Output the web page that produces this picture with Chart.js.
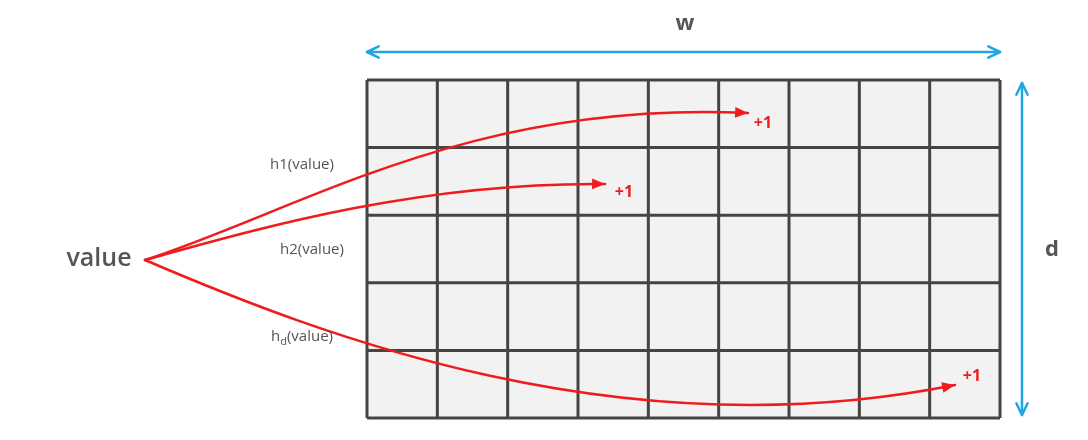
<!DOCTYPE html>
<html><head><meta charset="utf-8">
<script src="https://cdn.jsdelivr.net/npm/chart.js@4"></script>
<style>html,body{margin:0;padding:0;background:#fff}</style>
</head><body>
<canvas id="c" width="1088" height="440"></canvas>
<script>
// Sketch grid (w columns x d rows), in page-unit coordinates
const gridCols = 9;
const gridRows = 5;
const gridBox = [367, 80, 1000, 418]; // x0,y0,x1,y1
// Hash curves: start, control1, control2, end
const curveStarts = [[145,260],[145,260],[145,260]];
const curveC1 = [[300,210],[260,228],[320,335]];
const curveC2 = [[470,100],[420,182],[620,452]];
const curveEnds = [[748,113],[605,184],[955,385]];
const hashLabels = ["h1(value)", "h2(value)", "hd(value)"];
const hashLabelPos = [[302,165],[312,250],[302,337]];
const plusPos = [[763,123],[624,192],[972,376]];
const wArrow = [[367,52],[1000,52]];
const dArrow = [[1022,83],[1022,415]];

const plugin = {
  id: 'sketch',
  afterDraw(chart) {
    const ctx = chart.ctx, X = chart.scales.x, Y = chart.scales.y;
    const px = v => X.getPixelForValue(v), py = v => Y.getPixelForValue(v);
    const [x0,y0,x1,y1] = gridBox;
    const cw = (x1-x0)/gridCols, rh = (y1-y0)/gridRows;
    ctx.save();
    ctx.fillStyle = '#f2f2f2';
    ctx.fillRect(px(x0), py(y0), px(x1)-px(x0), py(y1)-py(y0));
    ctx.strokeStyle = '#444'; ctx.lineWidth = 3;
    ctx.beginPath();
    for (let i=0;i<=gridCols;i++){ctx.moveTo(px(x0+i*cw),py(y0));ctx.lineTo(px(x0+i*cw),py(y1));}
    for (let j=0;j<=gridRows;j++){ctx.moveTo(px(x0),py(y0+j*rh));ctx.lineTo(px(x1),py(y0+j*rh));}
    ctx.stroke();
    function arrow(a,b,col,lw,head,both){
      ctx.strokeStyle=col; ctx.fillStyle=col; ctx.lineWidth=lw;
      ctx.beginPath(); ctx.moveTo(px(a[0]),py(a[1])); ctx.lineTo(px(b[0]),py(b[1])); ctx.stroke();
      const tip=(p,q)=>{const ang=Math.atan2(py(p[1])-py(q[1]),px(p[0])-px(q[0]));
        ctx.beginPath(); ctx.moveTo(px(p[0]),py(p[1]));
        ctx.lineTo(px(p[0])-head*Math.cos(ang-0.45),py(p[1])-head*Math.sin(ang-0.45));
        ctx.moveTo(px(p[0]),py(p[1]));
        ctx.lineTo(px(p[0])-head*Math.cos(ang+0.45),py(p[1])-head*Math.sin(ang+0.45));
        ctx.stroke();};
      tip(b,a); if(both) tip(a,b);
    }
    ctx.lineCap='round';
    arrow(wArrow[0],wArrow[1],'#1ea7e4',2.5,13,true);
    arrow(dArrow[0],dArrow[1],'#1ea7e4',2.5,13,true);
    for (let i=0;i<curveStarts.length;i++){
      const s=curveStarts[i],c1=curveC1[i],c2=curveC2[i],e=curveEnds[i];
      ctx.strokeStyle='#ee1c1c'; ctx.lineWidth=2.5;
      ctx.beginPath(); ctx.moveTo(px(s[0]),py(s[1]));
      ctx.bezierCurveTo(px(c1[0]),py(c1[1]),px(c2[0]),py(c2[1]),px(e[0]),py(e[1]));
      ctx.stroke();
      const ang=Math.atan2(py(e[1])-py(c2[1]),px(e[0])-px(c2[0]));
      ctx.fillStyle='#ee1c1c'; ctx.beginPath();
      ctx.moveTo(px(e[0]),py(e[1]));
      ctx.lineTo(px(e[0])-14*Math.cos(ang-0.4),py(e[1])-14*Math.sin(ang-0.4));
      ctx.lineTo(px(e[0])-14*Math.cos(ang+0.4),py(e[1])-14*Math.sin(ang+0.4));
      ctx.closePath(); ctx.fill();
      ctx.font='bold 16px "Open Sans"'; ctx.textAlign='center'; ctx.textBaseline='middle';
      ctx.fillText('+1',px(plusPos[i][0]),py(plusPos[i][1]));
      ctx.fillStyle='#555'; ctx.font='15px "Open Sans"';
      const [lx,ly]=hashLabelPos[i];
      if (hashLabels[i]==='hd(value)'){
        const w1=ctx.measureText('h').width, w2=ctx.measureText('(value)').width;
        ctx.font='11px "Open Sans"'; const wd=ctx.measureText('d').width;
        let st=px(lx)-(w1+wd+w2)/2; ctx.textAlign='left';
        ctx.font='15px "Open Sans"'; ctx.fillText('h',st,py(ly));
        ctx.font='11px "Open Sans"'; ctx.fillText('d',st+w1,py(ly)+5);
        ctx.font='15px "Open Sans"'; ctx.fillText('(value)',st+w1+wd,py(ly));
      } else ctx.fillText(hashLabels[i],px(lx),py(ly));
    }
    ctx.fillStyle='#555'; ctx.textAlign='center'; ctx.textBaseline='middle';
    ctx.font='600 25px "Open Sans"'; ctx.fillText('value',px(99),py(259));
    ctx.font='bold 22px "Open Sans"'; ctx.fillText('w',px(685),py(24));
    ctx.fillText('d',px(1052),py(250));
    ctx.restore();
  }
};
new Chart(document.getElementById('c'), {
  type:'scatter',
  data:{datasets:[{data:[]}]},
  options:{responsive:false,animation:false,layout:{padding:0},
    plugins:{legend:{display:false},tooltip:{enabled:false}},
    scales:{x:{type:'linear',min:0,max:1088,display:false},
            y:{type:'linear',min:0,max:440,reverse:true,display:false}}},
  plugins:[plugin]
});
</script>
</body></html>
